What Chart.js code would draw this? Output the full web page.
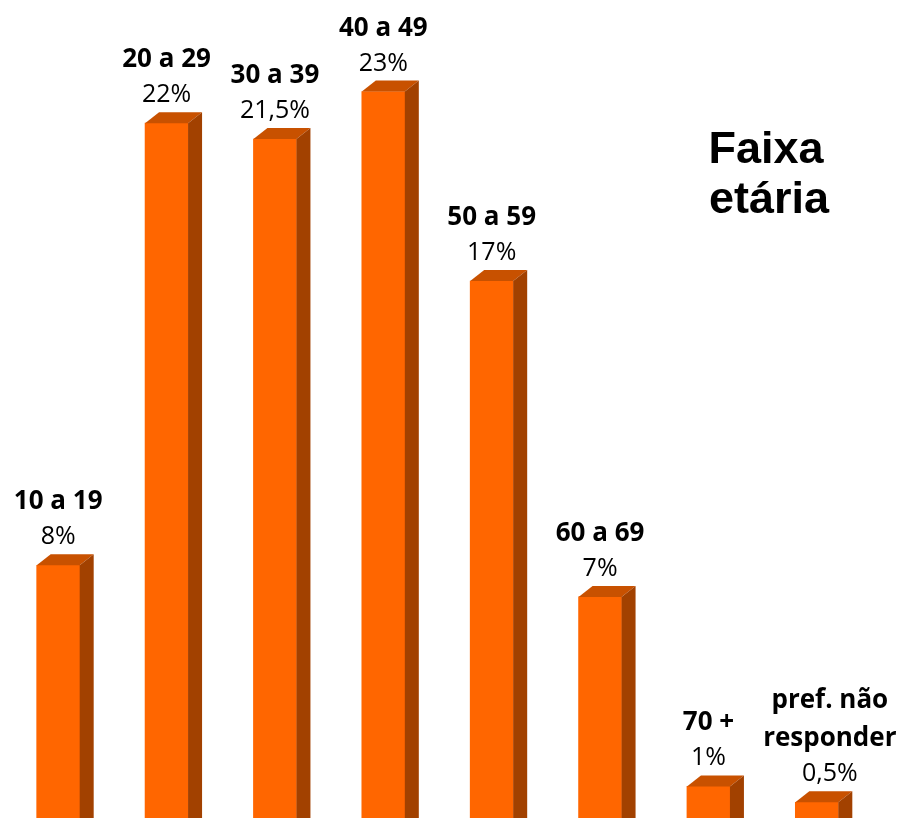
<!DOCTYPE html>
<html>
<head>
<meta charset="utf-8">
<script src="https://cdn.jsdelivr.net/npm/chart.js@4/dist/chart.umd.min.js"></script>
<style>
  html, body { margin: 0; padding: 0; background: #ffffff; }
  #wrap { width: 899px; height: 821px; position: relative; }
</style>
</head>
<body>
<div id="wrap"><canvas id="faixaChart"></canvas></div>
<script>
// Faixa etária
const categories = ['10 a 19', '20 a 29', '30 a 39', '40 a 49', '50 a 59', '60 a 69', '70 +', ['pref. não', 'responder']];
const percentValues = [8, 22, 21.5, 23, 17, 7, 1, 0.5];
const chartTitle = ['Faixa', 'etária'];

const frontColor = '#FF6600';
const topColor = '#C85100';
const sideColor = '#A24100';
const depthX = 14, depthY = 11;

// desenha as faces de topo e lateral para o efeito 3D
const bar3d = {
    id: 'bar3d',
    afterDatasetsDraw(chart) {
        const ctx = chart.ctx;
        chart.getDatasetMeta(0).data.forEach(bar => {
            const half = bar.width / 2;
            const l = bar.x - half, r = bar.x + half, t = bar.y, b = bar.base;
            ctx.save();
            ctx.fillStyle = topColor;
            ctx.beginPath();
            ctx.moveTo(l, t);
            ctx.lineTo(l + depthX, t - depthY);
            ctx.lineTo(r + depthX, t - depthY);
            ctx.lineTo(r, t);
            ctx.closePath();
            ctx.fill();
            ctx.fillStyle = sideColor;
            ctx.beginPath();
            ctx.moveTo(r, t);
            ctx.lineTo(r + depthX, t - depthY);
            ctx.lineTo(r + depthX, b);
            ctx.lineTo(r, b);
            ctx.closePath();
            ctx.fill();
            ctx.restore();
        });
    }
};

// rótulos acima das barras + título
const labelsPlugin = {
    id: 'labelsPlugin',
    afterDraw(chart) {
        const ctx = chart.ctx;
        const bars = chart.getDatasetMeta(0).data;
        ctx.save();
        ctx.textAlign = 'center';
        ctx.textBaseline = 'alphabetic';
        ctx.fillStyle = '#000000';
        bars.forEach((bar, i) => {
            // o último rótulo (duas linhas) fica um pouco deslocado à direita
            const cx = bar.x + (i === bars.length - 1 ? 13 : 0);
            const pctY = bar.y - 21;
            ctx.font = '25px "Open Sans"';
            ctx.fillText(String(percentValues[i]).replace('.', ',') + '%', cx, pctY);
            const lines = Array.isArray(categories[i]) ? categories[i] : [categories[i]];
            ctx.font = 'bold 26px "Open Sans"';
            lines.forEach((line, k) => {
                ctx.fillText(line, cx, pctY - 35 - (lines.length - 1 - k) * 38);
            });
        });
        ctx.font = 'bold 45px "Liberation Sans", Arial, sans-serif';
        ctx.fillText(chartTitle[0], 766, 163);
        ctx.fillText(chartTitle[1], 769, 213);
        ctx.restore();
    }
};

const ctx = document.getElementById('faixaChart').getContext('2d');
const faixaChart = new Chart(ctx, {
    type: 'bar',
    data: {
        labels: categories,
        datasets: [{
            data: percentValues,
            backgroundColor: frontColor,
            borderWidth: 0,
            barThickness: 43
        }]
    },
    options: {
        responsive: true,
        maintainAspectRatio: false,
        animation: false,
        layout: { padding: { left: 4, right: 28, top: 0, bottom: 3 } },
        plugins: {
            legend: { display: false },
            tooltip: { enabled: false }
        },
        scales: {
            x: { display: false },
            y: { display: false, min: 0, max: 25.9 }
        }
    },
    plugins: [bar3d, labelsPlugin]
});
</script>
</body>
</html>
